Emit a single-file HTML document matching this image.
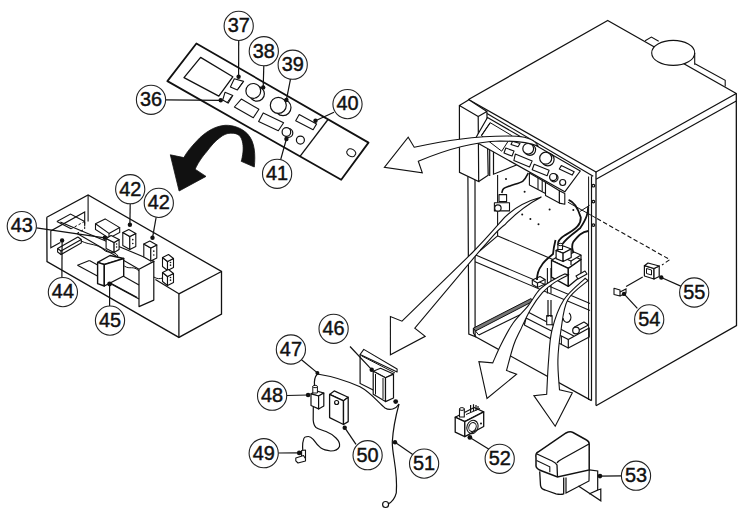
<!DOCTYPE html>
<html><head><meta charset="utf-8"><style>
html,body{margin:0;padding:0;background:#fff;}
svg{display:block;}
text{font-family:"Liberation Sans",sans-serif;}
</style></head><body>
<svg width="745" height="517" viewBox="0 0 745 517">
<rect width="745" height="517" fill="#fff"/>
<polygon points="196.4,43.5 368.5,142.6 341.2,179.8 167.4,81.1" fill="#fff" stroke="#111" stroke-width="1.8" stroke-linejoin="round"/>
<path d="M328,119.5 L300,156.4" fill="none" stroke="#111" stroke-width="1.3" />
<polygon points="200.6,57.4 232.8,76.8 218.8,96.1 184,77.6" fill="#fff" stroke="#111" stroke-width="1.3" stroke-linejoin="round"/>
<polygon points="234.3,78.7 243.6,81.4 237.4,90 230.4,86.9" fill="#fff" stroke="#111" stroke-width="1.1" stroke-linejoin="round"/>
<polygon points="225,92.3 232.8,95.4 228.1,103.1 222.7,100" fill="#fff" stroke="#111" stroke-width="1.1" stroke-linejoin="round"/>
<path d="M242.5,82.5 L237.5,89.5" fill="none" stroke="#111" stroke-width="1" />
<path d="M231.5,96.5 L226.8,103" fill="none" stroke="#111" stroke-width="1" />
<circle cx="257" cy="93.8" r="7.4" fill="none" stroke="#111" stroke-width="1.2"/>
<circle cx="253.3" cy="90.9" r="7.4" fill="#fff" stroke="#111" stroke-width="1.2"/>
<circle cx="283" cy="107.6" r="8" fill="none" stroke="#111" stroke-width="1.2"/>
<circle cx="278.3" cy="105.3" r="8" fill="#fff" stroke="#111" stroke-width="1.2"/>
<polygon points="241.3,99.1 258.9,109.2 253.3,117.7 234.4,107" fill="#fff" stroke="#111" stroke-width="1.1" stroke-linejoin="round"/>
<polygon points="263.2,112.9 283.6,122.7 278.3,130.8 258.6,121.5" fill="#fff" stroke="#111" stroke-width="1.1" stroke-linejoin="round"/>
<polygon points="299.2,114.6 316.6,123.9 313.1,129.7 295.7,120.8" fill="#fff" stroke="#111" stroke-width="1.1" stroke-linejoin="round"/>
<circle cx="288.5" cy="133" r="4.3" fill="none" stroke="#111" stroke-width="1.2"/>
<circle cx="286.4" cy="132" r="4.3" fill="#fff" stroke="#111" stroke-width="1.2"/>
<circle cx="300.4" cy="140.1" r="4" fill="none" stroke="#111" stroke-width="1.2"/>
<path d="M347.5,150.5 a4.5,3 30 1,0 7.5,4.5 a4.5,3 30 1,0 -7.5,-4.5" fill="none" stroke="#111" stroke-width="1.1" />
<path d="M238.7,40.5 L238.6,76.8" fill="none" stroke="#111" stroke-width="1.2" />
<circle cx="238.6" cy="76.8" r="2.2" fill="#111"/>
<path d="M263.8,65.8 L263.2,87.4" fill="none" stroke="#111" stroke-width="1.2" />
<circle cx="263.2" cy="87.4" r="2.2" fill="#111"/>
<path d="M290.5,79.2 L286.4,99.9" fill="none" stroke="#111" stroke-width="1.2" />
<circle cx="286.4" cy="99.9" r="2.2" fill="#111"/>
<path d="M165.6,99.9 L220.7,100.3" fill="none" stroke="#111" stroke-width="1.2" />
<circle cx="220.7" cy="100.3" r="2.2" fill="#111"/>
<path d="M334,112.2 L315.5,120.8" fill="none" stroke="#111" stroke-width="1.2" />
<circle cx="315.5" cy="120.8" r="2.2" fill="#111"/>
<path d="M280.6,159.8 L286.4,139" fill="none" stroke="#111" stroke-width="1.2" />
<circle cx="286.4" cy="139" r="2.2" fill="#111"/>
<path d="M254.3,167 C255.5,155 255,142 247.7,134.1 C242,128 233,125 225.2,125.3 C215,126 205,132 197,140.7 C191,147 187,152 183.8,157.6 L170.3,154.8 L179.1,191 L206,176.4 L195.1,169.2 C199,161 203,156 206.4,152 C211,146 215,141 219.5,137.9 C223,135 227,133 230.8,133.2 C235,133 237.5,134 239.3,135.5 C243,139 243.5,147 243,152 C242.5,156 242,159 241.2,161.3 Z" fill="#111" stroke="#111" stroke-width="0.8" />
<path d="M46.8,217.3 L88.1,195 L221.5,271.5 L221.5,314 L178.9,337.4 L47,261.6 L46.8,217.3" fill="none" stroke="#111" stroke-width="1.3" />
<path d="M178.9,293.8 L178.9,337.4" fill="none" stroke="#111" stroke-width="1.3" />
<path d="M178.9,293.8 L221.5,271.5" fill="none" stroke="#111" stroke-width="1.3" />
<path d="M178.9,293.8 L155.4,279.5" fill="none" stroke="#111" stroke-width="1.2" />
<path d="M88.1,195 L88.1,221.4" fill="none" stroke="#111" stroke-width="1.1" />
<path d="M84.7,226 L84.7,211.9 L50.8,230.9 L50.8,247.8 L60.3,242.4" fill="none" stroke="#111" stroke-width="1.1" />
<path d="M84.7,222 L84.7,229 L76,234" fill="none" stroke="#111" stroke-width="1" stroke-dasharray="2.5,2"/>
<path d="M56.9,221.4 L70.5,214 L84.7,221.4" fill="none" stroke="#111" stroke-width="1.1" />
<path d="M56.9,221.4 L71.1,228.8" fill="none" stroke="#111" stroke-width="1.1" />
<path d="M84.7,221.4 L71.1,228.8" fill="none" stroke="#111" stroke-width="1" stroke-dasharray="2.5,2"/>
<path d="M60.3,222.1 L154.5,261.4" fill="none" stroke="#111" stroke-width="1.1" />
<path d="M77.2,233.6 L139,269.2" fill="none" stroke="#111" stroke-width="1.1" />
<polygon points="139,269.2 153.8,261.4 153.8,300.1 139,306.6" fill="#fff" stroke="#111" stroke-width="1.2" stroke-linejoin="round"/>
<path d="M77.5,265.2 L89.4,260.6" fill="none" stroke="#111" stroke-width="1.1" />
<path d="M77.5,265.2 L137.2,297.4" fill="none" stroke="#111" stroke-width="1.1" />
<path d="M89.4,260.6 L97.7,265" fill="none" stroke="#111" stroke-width="1.1" />
<path d="M123,276 L139,285" fill="none" stroke="#111" stroke-width="1.1" />
<path d="M106.9,281.8 L139,299" fill="none" stroke="#111" stroke-width="1.1" />
<polygon points="95.5,223.7 105.1,218.9 119.7,227.6 109,233.4" fill="#fff" stroke="#111" stroke-width="1.1" stroke-linejoin="round"/>
<path d="M95.5,223.7 L95.5,229.5 L109,238.2 L119.7,232.4 L119.7,227.6" fill="none" stroke="#111" stroke-width="1.1" />
<path d="M109,233.4 L109,238.2" fill="none" stroke="#111" stroke-width="1.1" />
<polygon points="122.8,232.5 129.8,236.5 129.8,249.5 122.8,245.5" fill="#fff" stroke="#111" stroke-width="1.1" stroke-linejoin="round"/>
<polygon points="129.8,236.5 135.8,233.5 135.8,246.5 129.8,249.5" fill="#fff" stroke="#111" stroke-width="1.1" stroke-linejoin="round"/>
<polygon points="122.8,232.5 128.8,229.5 135.8,233.5 129.8,236.5" fill="#fff" stroke="#111" stroke-width="1.1" stroke-linejoin="round"/>
<circle cx="132.8" cy="239.65" r="0.8" fill="#111"/>
<circle cx="132.8" cy="243.55" r="0.8" fill="#111"/>
<polygon points="143.8,244 150.8,248 150.8,261 143.8,257" fill="#fff" stroke="#111" stroke-width="1.1" stroke-linejoin="round"/>
<polygon points="150.8,248 156.8,245 156.8,258 150.8,261" fill="#fff" stroke="#111" stroke-width="1.1" stroke-linejoin="round"/>
<polygon points="143.8,244 149.8,241 156.8,245 150.8,248" fill="#fff" stroke="#111" stroke-width="1.1" stroke-linejoin="round"/>
<circle cx="153.8" cy="251.15" r="0.8" fill="#111"/>
<circle cx="153.8" cy="255.05" r="0.8" fill="#111"/>
<polygon points="162.5,257.5 167.5,261.5 167.5,270.5 162.5,266.5" fill="#fff" stroke="#111" stroke-width="1.1" stroke-linejoin="round"/>
<polygon points="167.5,261.5 173.5,258.5 173.5,267.5 167.5,270.5" fill="#fff" stroke="#111" stroke-width="1.1" stroke-linejoin="round"/>
<polygon points="162.5,257.5 168.5,254.5 173.5,258.5 167.5,261.5" fill="#fff" stroke="#111" stroke-width="1.1" stroke-linejoin="round"/>
<circle cx="170.5" cy="262.45" r="0.8" fill="#111"/>
<circle cx="170.5" cy="265.15" r="0.8" fill="#111"/>
<polygon points="162.5,272.5 167.5,276.5 167.5,285.5 162.5,281.5" fill="#fff" stroke="#111" stroke-width="1.1" stroke-linejoin="round"/>
<polygon points="167.5,276.5 173.5,273.5 173.5,282.5 167.5,285.5" fill="#fff" stroke="#111" stroke-width="1.1" stroke-linejoin="round"/>
<polygon points="162.5,272.5 168.5,269.5 173.5,273.5 167.5,276.5" fill="#fff" stroke="#111" stroke-width="1.1" stroke-linejoin="round"/>
<circle cx="170.5" cy="277.45" r="0.8" fill="#111"/>
<circle cx="170.5" cy="280.15" r="0.8" fill="#111"/>
<polygon points="106.1,238.5 114.1,242.5 114.1,252.5 106.1,248.5" fill="#fff" stroke="#111" stroke-width="1.1" stroke-linejoin="round"/>
<polygon points="114.1,242.5 119.1,239.5 119.1,249.5 114.1,252.5" fill="#fff" stroke="#111" stroke-width="1.1" stroke-linejoin="round"/>
<polygon points="106.1,238.5 111.1,235.5 119.1,239.5 114.1,242.5" fill="#fff" stroke="#111" stroke-width="1.1" stroke-linejoin="round"/>
<circle cx="116.6" cy="244.0" r="0.8" fill="#111"/>
<circle cx="116.6" cy="247.0" r="0.8" fill="#111"/>
<polygon points="57.6,248.5 77.9,237 81.3,239.5 61,251" fill="#fff" stroke="#111" stroke-width="1.1" stroke-linejoin="round"/>
<path d="M57.6,248.5 L57.6,252 L61,254.5 L81.3,243 L81.3,239.5" fill="none" stroke="#111" stroke-width="1.1" />
<path d="M61,251 L61,254.5" fill="none" stroke="#111" stroke-width="1.1" />
<polygon points="97.6,262.4 110,255.5 123.7,258.5 104.3,264.5" fill="#fff" stroke="#111" stroke-width="1.3" stroke-linejoin="round"/>
<polygon points="97.6,262.4 104.3,264.5 104.3,286 97.6,283.7" fill="#fff" stroke="#111" stroke-width="1.4" stroke-linejoin="round"/>
<polygon points="104.3,264.5 123.7,258.5 123.7,276 104.3,286" fill="#fff" stroke="#111" stroke-width="1.4" stroke-linejoin="round"/>
<path d="M81,241 C92,246 96,243 104,250 C108,254 114,250 118,256" fill="none" stroke="#111" stroke-width="1" />
<path d="M124.3,266 C130,270 133,265 139,271" fill="none" stroke="#111" stroke-width="1" />
<path d="M153.8,277 C157,279 160,279 162.5,278" fill="none" stroke="#111" stroke-width="1" />
<path d="M130.2,203.8 L129.9,224.7" fill="none" stroke="#111" stroke-width="1.2" />
<circle cx="129.9" cy="224.7" r="2.2" fill="#111"/>
<path d="M156.1,217.5 L152.5,237.8" fill="none" stroke="#111" stroke-width="1.2" />
<circle cx="152.5" cy="237.8" r="2.2" fill="#111"/>
<path d="M36.4,227.9 L104.8,237.8" fill="none" stroke="#111" stroke-width="1.2" />
<circle cx="104.8" cy="237.8" r="2.2" fill="#111"/>
<path d="M61.9,277.5 L62.1,240.4" fill="none" stroke="#111" stroke-width="1.2" />
<circle cx="62.1" cy="240.4" r="2.2" fill="#111"/>
<path d="M109.6,306 L109.6,284" fill="none" stroke="#111" stroke-width="1.2" />
<circle cx="109.6" cy="284" r="2.4" fill="#111"/>
<polygon points="468.5,99.5 607.7,20.5 736.3,93.5 596,172" fill="#fff" stroke="#111" stroke-width="1.3" stroke-linejoin="round"/>
<path d="M487,113.5 L593.2,176.2" fill="none" stroke="#111" stroke-width="1.2" />
<path d="M596,179.3 L736.3,101" fill="none" stroke="#111" stroke-width="1.2" />
<path d="M736.3,93.5 L736.5,325.5 L596,405.8" fill="none" stroke="#111" stroke-width="1.3" />
<path d="M596,172 L596,405.6" fill="none" stroke="#111" stroke-width="1.3" />
<path d="M591.5,176.2 L591.5,400.6" fill="none" stroke="#111" stroke-width="1.2" />
<circle cx="593.4" cy="185.7" r="1.3" fill="none" stroke="#111" stroke-width="1.2"/>
<circle cx="593.4" cy="201.6" r="1.3" fill="none" stroke="#111" stroke-width="1.2"/>
<circle cx="593.4" cy="225.1" r="1.3" fill="none" stroke="#111" stroke-width="1.2"/>
<ellipse cx="673.2" cy="52.9" rx="21.5" ry="12.5" fill="#fff" stroke="#111" stroke-width="1.1"/>
<path d="M694.7,52.9 L694.7,64.7" fill="none" stroke="#111" stroke-width="1.1" />
<path d="M645.1,40.8 L651.4,37.1 L658.7,41.2" fill="none" stroke="#111" stroke-width="1.1" />
<path d="M695,63.7 L725.2,80.3 L725.2,86.6" fill="none" stroke="#111" stroke-width="1.1" />
<polygon points="459.4,105.5 468.9,99.7 486.9,111.4 478.2,116.6" fill="#fff" stroke="#111" stroke-width="1.2" stroke-linejoin="round"/>
<path d="M459.4,105.5 L459.5,172.4 L478.7,181.5 L478.2,116.6" fill="none" stroke="#111" stroke-width="1.2" />
<path d="M486.9,111.4 L488.2,175.3 L478.7,181.5" fill="none" stroke="#111" stroke-width="1.2" />
<path d="M467.9,176.5 L468.8,334 L475.1,336.5 L475,180" fill="none" stroke="#111" stroke-width="1.2" />
<path d="M489.7,150 L489.7,176" fill="none" stroke="#111" stroke-width="1.2" />
<path d="M493.5,150 L493.5,174.2 L516.5,165" fill="none" stroke="#111" stroke-width="1.2" />
<path d="M497.6,175 L497.6,236.4" fill="none" stroke="#111" stroke-width="1.1" />
<polygon points="487.5,117.5 580.3,171 564.8,191.8 474,141" fill="#fff" stroke="#111" stroke-width="1.2" stroke-linejoin="round"/>
<path d="M490.2,122.7 L481.4,135.6" fill="none" stroke="#111" stroke-width="1.1" />
<polygon points="490.2,122.7 511.8,135.6 501.7,151.2 481.4,135.6" fill="none" stroke="#111" stroke-width="1.0" stroke-linejoin="round"/>
<circle cx="530" cy="149.8" r="5.6" fill="none" stroke="#111" stroke-width="1.2"/>
<circle cx="528.2" cy="148.7" r="5.4" fill="#fff" stroke="#111" stroke-width="1.2"/>
<circle cx="547.8" cy="159.5" r="6.3" fill="none" stroke="#111" stroke-width="1.2"/>
<circle cx="545.7" cy="158.2" r="6" fill="#fff" stroke="#111" stroke-width="1.2"/>
<polygon points="512.6,141.2 520,143.5 518,146.7 511,144.4" fill="#fff" stroke="#111" stroke-width="1.1" stroke-linejoin="round"/>
<polygon points="505.8,148 514,151 512,156.1 504,153" fill="#fff" stroke="#111" stroke-width="1.1" stroke-linejoin="round"/>
<polygon points="515.3,154.1 532.2,160.9 529.5,167 513.9,160.5" fill="#fff" stroke="#111" stroke-width="1.1" stroke-linejoin="round"/>
<polygon points="534.2,164.2 549.1,170.3 547.1,175.7 532.2,169.7" fill="#fff" stroke="#111" stroke-width="1.1" stroke-linejoin="round"/>
<polygon points="561.3,165.6 574.2,171.7 572.1,175.1 559.3,169" fill="#fff" stroke="#111" stroke-width="1.1" stroke-linejoin="round"/>
<circle cx="554" cy="177.8" r="4" fill="none" stroke="#111" stroke-width="1.2"/>
<circle cx="553.2" cy="177.1" r="3.6" fill="#fff" stroke="#111" stroke-width="1.2"/>
<circle cx="562.7" cy="182.5" r="3" fill="none" stroke="#111" stroke-width="1.2"/>
<polygon points="529.4,173 545.5,182.2 545.5,193.5 529.4,184.9" fill="#fff" stroke="#111" stroke-width="1.1" stroke-linejoin="round"/>
<path d="M538,177.9 L538,189.2" fill="none" stroke="#111" stroke-width="1.1" />
<path d="M542.2,180.2 L542.2,191.5" fill="none" stroke="#111" stroke-width="1.1" />
<polygon points="545.5,182.2 559.4,190.8 559.4,203.1 545.5,195.6" fill="#fff" stroke="#111" stroke-width="1.1" stroke-linejoin="round"/>
<polygon points="559.4,190.8 564.8,193.5 564.8,204.2 559.4,203.1" fill="#fff" stroke="#111" stroke-width="1.1" stroke-linejoin="round"/>
<circle cx="506" cy="179.1" r="1.0" fill="#111"/>
<circle cx="524.6" cy="191.7" r="1.0" fill="#111"/>
<circle cx="549.6" cy="209.4" r="1.0" fill="#111"/>
<circle cx="573.3" cy="210" r="1.0" fill="#111"/>
<circle cx="522.2" cy="214.4" r="1.0" fill="#111"/>
<circle cx="530.4" cy="219" r="1.0" fill="#111"/>
<circle cx="538.5" cy="224.3" r="1.0" fill="#111"/>
<path d="M414.2,147.2 C440,142 475,135 516.9,136.2 C528,137 535,140 538,146 C530,143 518,141 500,141 C470,142 440,152 418.3,161.3 L422.3,172.8 L384.4,167.4 L408.2,137.2 Z" fill="#fff" stroke="#111" stroke-width="1.1" />
<path d="M497.6,235.9 L475.5,254.5" fill="none" stroke="#111" stroke-width="1.1" />
<path d="M497.9,235.9 L552.9,259.5" fill="none" stroke="#111" stroke-width="1.1" />
<path d="M475.1,254.8 L590,303.6" fill="none" stroke="#111" stroke-width="1.1" />
<path d="M475.1,261.8 L590,310.5" fill="none" stroke="#111" stroke-width="1.1" />
<path d="M567.9,202.2 L596,218" fill="none" stroke="#111" stroke-width="1" />
<path d="M597,218.6 L669.8,259.6 L662,265" fill="none" stroke="#111" stroke-width="1.1" stroke-dasharray="4.5,2.5"/>
<path d="M580.1,211.4 L589.6,205.3" fill="none" stroke="#111" stroke-width="1" />
<path d="M475.1,336.5 L591.5,400.6" fill="none" stroke="#111" stroke-width="1.2" />
<path d="M473.4,328.1 L530.9,298.6 L533.5,301 L475.5,331 Z" fill="#777" stroke="#111" stroke-width="1.0" />
<path d="M478.8,335.1 L520.1,314.7" fill="none" stroke="#111" stroke-width="1.1" />
<path d="M473.4,328.1 L473.4,333 L476,337" fill="none" stroke="#111" stroke-width="1.1" />
<path d="M475.5,331 L478.8,335.1" fill="none" stroke="#111" stroke-width="1.0" />
<path d="M526,318 L568.3,339.5" fill="none" stroke="#111" stroke-width="1.2" />
<path d="M524.3,325 L568.3,348" fill="none" stroke="#111" stroke-width="1.2" />
<path d="M524.3,325 L526,318" fill="none" stroke="#111" stroke-width="1.2" />
<polygon points="568.3,339.5 589.2,328 589.2,337 568.3,348" fill="#fff" stroke="#111" stroke-width="1.2" stroke-linejoin="round"/>
<path d="M561.4,336 L561.4,344" fill="none" stroke="#111" stroke-width="1" />
<path d="M528.9,312.5 L573.8,336" fill="none" stroke="#111" stroke-width="1.1" />
<polygon points="574.5,327 584,322 588.5,325 579,330" fill="#fff" stroke="#111" stroke-width="1.1" stroke-linejoin="round"/>
<circle cx="576" cy="330.5" r="3.3" fill="#fff" stroke="#111" stroke-width="1.2"/>
<polygon points="546.7,315.6 552.1,315.6 552.1,324.8 546.7,324.8" fill="#fff" stroke="#111" stroke-width="1.1" stroke-linejoin="round"/>
<path d="M563,318 a4,5 0 1,0 6,-5" fill="none" stroke="#111" stroke-width="1.1" />
<path d="M588.6,176.5 L588.6,400" fill="none" stroke="#111" stroke-width="1.0" />
<polygon points="551.5,260.3 565,252.5 581,259.5 568.3,268.4" fill="#fff" stroke="#111" stroke-width="1.2" stroke-linejoin="round"/>
<polygon points="551.5,260.3 568.3,268.4 568.3,286.4 551.5,277.1" fill="#fff" stroke="#111" stroke-width="1.3" stroke-linejoin="round"/>
<polygon points="568.3,268.4 581,259.5 581,276 568.3,286.4" fill="#fff" stroke="#111" stroke-width="1.3" stroke-linejoin="round"/>
<polygon points="564,258 574,252 581,255 571,261" fill="#fff" stroke="#111" stroke-width="1.1" stroke-linejoin="round"/>
<path d="M571,261 L571,265" fill="none" stroke="#111" stroke-width="1.2" />
<path d="M581,255 L581,259.5" fill="none" stroke="#111" stroke-width="1.2" />
<polygon points="556.1,250.4 563.5,246 571.2,249 563.1,253.3" fill="#fff" stroke="#111" stroke-width="1.2" stroke-linejoin="round"/>
<polygon points="556.1,250.4 563.1,253.3 563.1,261.5 556.1,258.6" fill="#fff" stroke="#111" stroke-width="1.2" stroke-linejoin="round"/>
<polygon points="563.1,253.3 571.2,249 571.2,257.5 563.1,261.5" fill="#fff" stroke="#111" stroke-width="1.2" stroke-linejoin="round"/>
<polygon points="557.9,244.5 562.5,244.5 562.5,249.5 557.9,249.5" fill="#fff" stroke="#111" stroke-width="1.1" stroke-linejoin="round"/>
<ellipse cx="560.2" cy="244.5" rx="2.3" ry="1.2" fill="#fff" stroke="#111" stroke-width="1"/>
<path d="M547.4,267.9 L547.4,293.4" fill="none" stroke="#111" stroke-width="1.1" />
<path d="M551,268 L551,293.4" fill="none" stroke="#111" stroke-width="1.1" />
<polygon points="532.3,280 540,276.5 545.1,279.5 537.5,283" fill="#fff" stroke="#111" stroke-width="1.1" stroke-linejoin="round"/>
<path d="M532.3,280 L532.3,284.5 L537.5,287.5 L545.1,284 L545.1,279.5" fill="none" stroke="#111" stroke-width="1.1" />
<path d="M537.5,283 L537.5,287.5" fill="none" stroke="#111" stroke-width="1.2" />
<polygon points="576,276 585,271 587,274 578,279" fill="#fff" stroke="#111" stroke-width="1.1" stroke-linejoin="round"/>
<path d="M548,300 L548,317" fill="none" stroke="#111" stroke-width="1.2" />
<path d="M551,300 L551,317" fill="none" stroke="#111" stroke-width="1.2" />
<path d="M528.3,173 C527.4,174.3 525.8,179.0 522.9,181.1 C520.0,183.2 514.3,184.2 511.1,185.4 C507.9,186.7 505.2,187.3 503.6,188.6 C502.1,189.9 502.1,192.3 501.8,193" fill="none" stroke="#111" stroke-width="1.6" />
<path d="M568.6,199.9 C574,202 578,208 580.8,217.5 C581,224 577.4,228.3 565.2,235.1 C559,239 557.5,242 558,245" fill="none" stroke="#111" stroke-width="1.8" />
<path d="M555.5,240 C554,246 553.2,251.6 553,254 C548,258 543,262 541.6,265.5 C538,270 537,274.8 537,280" fill="none" stroke="#111" stroke-width="1.8" />
<path d="M588.2,206.7 C588,213 587,218 580.1,228.3 C574,233 566.6,237.8 562.5,244" fill="none" stroke="#111" stroke-width="1.8" />
<path d="M588.2,231 C582,232 578.7,235.1 573.3,241.9 C571,246 572.4,250 573.5,253" fill="none" stroke="#111" stroke-width="1.8" />
<polygon points="499,194.6 506.6,194.6 506.6,201.6 499,201.6" fill="#fff" stroke="#111" stroke-width="1.1" stroke-linejoin="round"/>
<polygon points="494.4,202.8 509.5,202.8 509.5,210.9 494.4,210.9" fill="#fff" stroke="#111" stroke-width="1.1" stroke-linejoin="round"/>
<circle cx="497.9" cy="208" r="3.2" fill="#fff" stroke="#111" stroke-width="1.2"/>
<path d="M541.4,197 C520,203 508,212 499,223.7 C490,234 480,245 472,253 L402,321.2 L390.4,316.6 L390.4,354.8 L425.2,336.3 L414.8,328.2 L480.4,250 C490,240 497,230 504.8,224.8 C515,214 528,204 541.4,197 Z" fill="#fff" stroke="#111" stroke-width="1.1" />
<path d="M564.8,273.9 C562.8,274.9 557.2,277.4 553,280 C548.8,282.6 543.7,285.3 539.5,289.7 C535.3,294.1 532.4,300.5 527.9,306.1 C523.4,311.7 517.3,317.0 512.8,323.5 C508.3,330.0 504.1,338.4 500.8,345 C497.5,351.6 494.1,359.9 492.7,362.9 L478.9,361.7 L487,398.4 L516.6,374.2 L506.5,370.5 C507.7,366.2 511.4,351.7 513.7,345 C516.0,338.3 517.4,336.3 520.3,330.3 C523.1,324.3 527.1,315.3 530.8,309 C534.5,302.7 538.5,297.0 542.4,292.6 C546.3,288.2 549.7,285.8 554,282.9 C558.3,280.0 565.9,276.3 568.3,275 Z" fill="#fff" stroke="#111" stroke-width="1.1" />
<path d="M585.1,278.3 C581.5,281.9 569.2,291.4 563.7,300 C558.2,308.6 554.5,320.0 552,330 C549.5,340.0 549.5,349.3 548.6,360 C547.7,370.7 547.0,388.5 546.7,394.2 L533.9,395.6 L555.2,426.3 L572.3,392.8 L559.5,389.9 C559.2,384.9 557.6,370.0 557.9,360 C558.1,350.0 559.4,340.0 561,330 C562.6,320.0 563.2,308.2 567.7,300 C572.2,291.8 584.6,283.8 588,280.6 Z" fill="#fff" stroke="#111" stroke-width="1.1" />
<polygon points="644.4,265.7 654,268.5 654,279 644.4,276" fill="#fff" stroke="#111" stroke-width="1.2" stroke-linejoin="round"/>
<polygon points="654,268.5 659.2,266 659.2,276.5 654,279" fill="#fff" stroke="#111" stroke-width="1.2" stroke-linejoin="round"/>
<polygon points="644.4,265.7 648,263 659.2,266 654,268.5" fill="#fff" stroke="#111" stroke-width="1.2" stroke-linejoin="round"/>
<polygon points="646.5,268.5 651.5,270 651.5,275 646.5,273.5" fill="#fff" stroke="#111" stroke-width="1" stroke-linejoin="round"/>
<path d="M626.1,286.6 L642.7,277" fill="none" stroke="#111" stroke-width="1.1" />
<polygon points="614,288.3 620,290 620,296 614,294.5" fill="#fff" stroke="#111" stroke-width="1.1" stroke-linejoin="round"/>
<path d="M620,292 L626,289 L626,293 L620,296" fill="none" stroke="#111" stroke-width="1.1" />
<path d="M661.3,277.5 L681.9,286.6" fill="none" stroke="#111" stroke-width="1.2" />
<circle cx="661.3" cy="277.5" r="2.2" fill="#111"/>
<path d="M624,293.9 L637.4,308.3" fill="none" stroke="#111" stroke-width="1.2" />
<circle cx="624" cy="293.9" r="2.2" fill="#111"/>
<polygon points="455.2,417.2 474.1,407.5 483.7,411.9 464.8,421.6" fill="#fff" stroke="#111" stroke-width="1.2" stroke-linejoin="round"/>
<polygon points="455.2,417.2 464.8,421.6 464.8,436.6 455.2,432.2" fill="#fff" stroke="#111" stroke-width="1.3" stroke-linejoin="round"/>
<polygon points="464.8,421.6 483.7,411.9 483.7,426.5 464.8,436.6" fill="#fff" stroke="#111" stroke-width="1.3" stroke-linejoin="round"/>
<ellipse cx="472.5" cy="427" rx="5.5" ry="6.8" transform="rotate(20 472.5 427)" fill="none" stroke="#111" stroke-width="1.1"/>
<ellipse cx="472.5" cy="427" rx="3.6" ry="4.6" transform="rotate(20 472.5 427)" fill="none" stroke="#111" stroke-width="1"/>
<circle cx="481" cy="423.5" r="1" fill="#111"/>
<polygon points="459.5,409 464.3,409 464.3,417 459.5,417" fill="#fff" stroke="#111" stroke-width="1.1" stroke-linejoin="round"/>
<ellipse cx="461.9" cy="409" rx="2.4" ry="1.4" fill="#fff" stroke="#111" stroke-width="1"/>
<path d="M470.6,405 L470.6,412" fill="none" stroke="#111" stroke-width="1.2" />
<path d="M473.5,404.2 L473.5,411" fill="none" stroke="#111" stroke-width="1.2" />
<path d="M476,405 L476,410.5" fill="none" stroke="#111" stroke-width="1.2" />
<path d="M478,406 L478,410" fill="none" stroke="#111" stroke-width="1.2" />
<path d="M466,414.5 L480,408.5" fill="none" stroke="#111" stroke-width="1" />
<path d="M469.9,437.4 L489.8,449.7" fill="none" stroke="#111" stroke-width="1.2" />
<circle cx="469.9" cy="437.4" r="2.4" fill="#111"/>
<path d="M536,458 C535.5,455 536,453 538,452 L566,433 C568,432 571,431.5 573,432.5 L586.5,440 C588.5,441 589.2,442 589.2,444 L589.2,469.9 L557.5,477 L542,471 C538,469.5 536,468 536,466 Z" fill="#fff" stroke="#111" stroke-width="1.5" />
<path d="M537,454 L551,460.5 C554,462 556,462.5 557,465 L557.5,477" fill="none" stroke="#111" stroke-width="1.3" />
<path d="M557,463 C558,461 560,460 562,459 L589,444" fill="none" stroke="#111" stroke-width="1.3" />
<path d="M536.6,460.6 L549.8,466.8 L549.8,472.2" fill="none" stroke="#111" stroke-width="1.1" />
<path d="M539.7,471.4 L540.5,485.3 C541,488 543,489.5 545.1,490 L556,493.9 C559,494.5 562,494.5 563.7,493.9 L563.7,477.6" fill="none" stroke="#111" stroke-width="1.3" />
<path d="M566,477.6 L566,493 L589,481 L589.2,469.9" fill="none" stroke="#111" stroke-width="1.2" />
<path d="M589.2,469.9 L597.7,471 L597.7,490 L589,494" fill="none" stroke="#111" stroke-width="1.2" />
<path d="M578.4,486.1 L600.8,500.8 L600.8,489 L597.7,490" fill="none" stroke="#111" stroke-width="1.2" />
<path d="M600,476.1 L621.3,475.9" fill="none" stroke="#111" stroke-width="1.2" />
<circle cx="600" cy="476.1" r="2.3" fill="#111"/>
<polygon points="363.8,349.4 397.1,369 397.1,371.9 360.1,354.5" fill="#fff" stroke="#111" stroke-width="1.1" stroke-linejoin="round"/>
<path d="M361.6,355.9 L395,373" fill="none" stroke="#111" stroke-width="1" />
<path d="M360.1,354.5 L360.1,383.5 L373.2,390" fill="none" stroke="#111" stroke-width="1.2" />
<polygon points="373.2,371.2 380.5,368.3 393.5,374.1 385.5,377.7" fill="#fff" stroke="#111" stroke-width="1.1" stroke-linejoin="round"/>
<polygon points="373.2,371.2 385.5,377.7 385.5,401.6 373.2,394.3" fill="#fff" stroke="#111" stroke-width="1.2" stroke-linejoin="round"/>
<polygon points="385.5,377.7 393.5,374.1 393.5,398 385.5,401.6" fill="#fff" stroke="#111" stroke-width="1.2" stroke-linejoin="round"/>
<path d="M375.5,374 L375.5,394.5" fill="none" stroke="#111" stroke-width="1" />
<path d="M383,378 L383,399" fill="none" stroke="#111" stroke-width="1" />
<path d="M350,346.5 L371.7,369.7" fill="none" stroke="#111" stroke-width="1.2" />
<circle cx="371.7" cy="369.7" r="2.2" fill="#111"/>
<polygon points="311,393.8 316.2,390.9 323.8,393 318.6,396" fill="#fff" stroke="#111" stroke-width="1.1" stroke-linejoin="round"/>
<polygon points="311,393.8 318.6,396 318.6,408.9 311,405.5" fill="#fff" stroke="#111" stroke-width="1.2" stroke-linejoin="round"/>
<polygon points="318.6,396 323.8,393 323.8,406 318.6,408.9" fill="#fff" stroke="#111" stroke-width="1.2" stroke-linejoin="round"/>
<polygon points="312.8,386.5 317.4,386.5 317.4,393 312.8,393" fill="#fff" stroke="#111" stroke-width="1" stroke-linejoin="round"/>
<ellipse cx="315.1" cy="386.5" rx="2.3" ry="1.2" fill="#fff" stroke="#111" stroke-width="1"/>
<polygon points="329.6,394.4 334.2,390.9 348.2,397.3 343.5,400.8" fill="#fff" stroke="#111" stroke-width="1.2" stroke-linejoin="round"/>
<polygon points="329.6,394.4 343.5,400.8 343.5,424.5 329.6,417.6" fill="#fff" stroke="#111" stroke-width="1.3" stroke-linejoin="round"/>
<polygon points="343.5,400.8 348.2,397.3 348.2,421.6 343.5,424.5" fill="#fff" stroke="#111" stroke-width="1.3" stroke-linejoin="round"/>
<circle cx="336.6" cy="402.5" r="2" fill="none" stroke="#111" stroke-width="1.2"/>
<path d="M317.4,374 C330,376 345,380 360,386.8 C370,392 378,402 385,408 C390,411 396,409 399,404" fill="none" stroke="#111" stroke-width="1.2" />
<path d="M317.4,374 C314.5,377 314,381 314.5,386" fill="none" stroke="#111" stroke-width="1.2" />
<path d="M313.3,407 L313.2,420 C313.5,424 314.2,425.8 316,427.5 C318,429 321,429.7 326,431.5 C331,433.5 333.6,435.5 336,438 C339,441 340,444 339.5,446.5 C338.4,449 335,451 330.7,451 C326,450.5 323,449.5 321,448.1 C317,445 315,442 313.2,439.4 C311,437 310,436.5 308.4,436.5 C305,436.5 303.8,438 303.6,439.4 C302.6,442 302.6,445.2 302.6,447 L302.8,451" fill="none" stroke="#111" stroke-width="1.2" />
<path d="M399,404 C396,415 393,430 392.3,441.7 C392,455 398,470 396.3,492.8 C395,498 392,502 388,504" fill="none" stroke="#111" stroke-width="1.2" />
<circle cx="385.6" cy="504.5" r="3" fill="none" stroke="#111" stroke-width="1.2"/>
<polygon points="301.6,450.5 305.5,450 305.5,458.7 301.6,459.2" fill="#fff" stroke="#111" stroke-width="1.1" stroke-linejoin="round"/>
<polygon points="295.8,458 303.5,455.5 305.5,458.7 305.5,461 298,463 295.8,460.8" fill="#fff" stroke="#111" stroke-width="1.1" stroke-linejoin="round"/>
<path d="M301.5,359.8 L317.4,372.9" fill="none" stroke="#111" stroke-width="1.2" />
<circle cx="317.4" cy="372.9" r="2" fill="#111"/>
<path d="M286.6,395.5 L308.1,395" fill="none" stroke="#111" stroke-width="1.2" />
<circle cx="308.1" cy="395" r="2.3" fill="#111"/>
<path d="M278.3,453 L299.2,452.9" fill="none" stroke="#111" stroke-width="1.2" />
<circle cx="299.2" cy="452.9" r="2.3" fill="#111"/>
<path d="M344.7,427.7 L356,444.4" fill="none" stroke="#111" stroke-width="1.2" />
<circle cx="344.7" cy="427.7" r="2.2" fill="#111"/>
<path d="M395,442.3 L413.8,455.2" fill="none" stroke="#111" stroke-width="1.2" />
<circle cx="395" cy="442.3" r="2.2" fill="#111"/>
<circle cx="395.7" cy="401.6" r="2.4" fill="#111"/>
<circle cx="238.7" cy="25.9" r="14.6" fill="#fff" stroke="#222" stroke-width="1.1"/>
<text x="0" y="32.199999999999996" transform="translate(238.7,0) scale(1.0,1)" text-anchor="middle" font-size="19.9" fill="#111" stroke="#111" stroke-width="0.45">37</text>
<circle cx="263.8" cy="51.2" r="14.6" fill="#fff" stroke="#222" stroke-width="1.1"/>
<text x="0" y="57.5" transform="translate(263.8,0) scale(1.0,1)" text-anchor="middle" font-size="19.9" fill="#111" stroke="#111" stroke-width="0.45">38</text>
<circle cx="292.7" cy="64.7" r="14.6" fill="#fff" stroke="#222" stroke-width="1.1"/>
<text x="0" y="71.0" transform="translate(292.7,0) scale(1.0,1)" text-anchor="middle" font-size="19.9" fill="#111" stroke="#111" stroke-width="0.45">39</text>
<circle cx="151" cy="99.8" r="14.6" fill="#fff" stroke="#222" stroke-width="1.1"/>
<text x="0" y="106.1" transform="translate(151,0) scale(1.0,1)" text-anchor="middle" font-size="19.9" fill="#111" stroke="#111" stroke-width="0.45">36</text>
<circle cx="347.5" cy="104.1" r="14.6" fill="#fff" stroke="#222" stroke-width="1.1"/>
<text x="0" y="110.39999999999999" transform="translate(347.5,0) scale(1.0,1)" text-anchor="middle" font-size="19.9" fill="#111" stroke="#111" stroke-width="0.45">40</text>
<circle cx="277.1" cy="173.8" r="14.6" fill="#fff" stroke="#222" stroke-width="1.1"/>
<text x="0" y="180.10000000000002" transform="translate(277.1,0) scale(1.0,1)" text-anchor="middle" font-size="19.9" fill="#111" stroke="#111" stroke-width="0.45">41</text>
<circle cx="130.2" cy="189.2" r="14.6" fill="#fff" stroke="#222" stroke-width="1.1"/>
<text x="0" y="195.5" transform="translate(130.2,0) scale(1.0,1)" text-anchor="middle" font-size="19.9" fill="#111" stroke="#111" stroke-width="0.45">42</text>
<circle cx="158.8" cy="202.9" r="14.6" fill="#fff" stroke="#222" stroke-width="1.1"/>
<text x="0" y="209.20000000000002" transform="translate(158.8,0) scale(1.0,1)" text-anchor="middle" font-size="19.9" fill="#111" stroke="#111" stroke-width="0.45">42</text>
<circle cx="21.8" cy="226.1" r="14.6" fill="#fff" stroke="#222" stroke-width="1.1"/>
<text x="0" y="232.4" transform="translate(21.8,0) scale(1.0,1)" text-anchor="middle" font-size="19.9" fill="#111" stroke="#111" stroke-width="0.45">43</text>
<circle cx="62.9" cy="292.1" r="14.6" fill="#fff" stroke="#222" stroke-width="1.1"/>
<text x="0" y="298.40000000000003" transform="translate(62.9,0) scale(1.0,1)" text-anchor="middle" font-size="19.9" fill="#111" stroke="#111" stroke-width="0.45">44</text>
<circle cx="110" cy="320.6" r="14.6" fill="#fff" stroke="#222" stroke-width="1.1"/>
<text x="0" y="326.90000000000003" transform="translate(110,0) scale(1.0,1)" text-anchor="middle" font-size="19.9" fill="#111" stroke="#111" stroke-width="0.45">45</text>
<circle cx="333.6" cy="328.8" r="14.6" fill="#fff" stroke="#222" stroke-width="1.1"/>
<text x="0" y="335.1" transform="translate(333.6,0) scale(1.0,1)" text-anchor="middle" font-size="19.9" fill="#111" stroke="#111" stroke-width="0.45">46</text>
<circle cx="290.9" cy="349.5" r="14.6" fill="#fff" stroke="#222" stroke-width="1.1"/>
<text x="0" y="355.8" transform="translate(290.9,0) scale(1.0,1)" text-anchor="middle" font-size="19.9" fill="#111" stroke="#111" stroke-width="0.45">47</text>
<circle cx="272.1" cy="395.7" r="14.6" fill="#fff" stroke="#222" stroke-width="1.1"/>
<text x="0" y="402.0" transform="translate(272.1,0) scale(1.0,1)" text-anchor="middle" font-size="19.9" fill="#111" stroke="#111" stroke-width="0.45">48</text>
<circle cx="263.7" cy="453.2" r="14.6" fill="#fff" stroke="#222" stroke-width="1.1"/>
<text x="0" y="459.5" transform="translate(263.7,0) scale(1.0,1)" text-anchor="middle" font-size="19.9" fill="#111" stroke="#111" stroke-width="0.45">49</text>
<circle cx="367.6" cy="455.2" r="14.6" fill="#fff" stroke="#222" stroke-width="1.1"/>
<text x="0" y="461.5" transform="translate(367.6,0) scale(1.0,1)" text-anchor="middle" font-size="19.9" fill="#111" stroke="#111" stroke-width="0.45">50</text>
<circle cx="424.1" cy="463.6" r="14.6" fill="#fff" stroke="#222" stroke-width="1.1"/>
<text x="0" y="469.90000000000003" transform="translate(424.1,0) scale(1.0,1)" text-anchor="middle" font-size="19.9" fill="#111" stroke="#111" stroke-width="0.45">51</text>
<circle cx="499.7" cy="458.8" r="14.6" fill="#fff" stroke="#222" stroke-width="1.1"/>
<text x="0" y="465.1" transform="translate(499.7,0) scale(1.0,1)" text-anchor="middle" font-size="19.9" fill="#111" stroke="#111" stroke-width="0.45">52</text>
<circle cx="636" cy="475.7" r="14.6" fill="#fff" stroke="#222" stroke-width="1.1"/>
<text x="0" y="482.0" transform="translate(636,0) scale(1.0,1)" text-anchor="middle" font-size="19.9" fill="#111" stroke="#111" stroke-width="0.45">53</text>
<circle cx="649.2" cy="319.4" r="14.6" fill="#fff" stroke="#222" stroke-width="1.1"/>
<text x="0" y="325.7" transform="translate(649.2,0) scale(1.0,1)" text-anchor="middle" font-size="19.9" fill="#111" stroke="#111" stroke-width="0.45">54</text>
<circle cx="694.2" cy="292.5" r="14.6" fill="#fff" stroke="#222" stroke-width="1.1"/>
<text x="0" y="298.8" transform="translate(694.2,0) scale(1.0,1)" text-anchor="middle" font-size="19.9" fill="#111" stroke="#111" stroke-width="0.45">55</text>
</svg></body></html>
